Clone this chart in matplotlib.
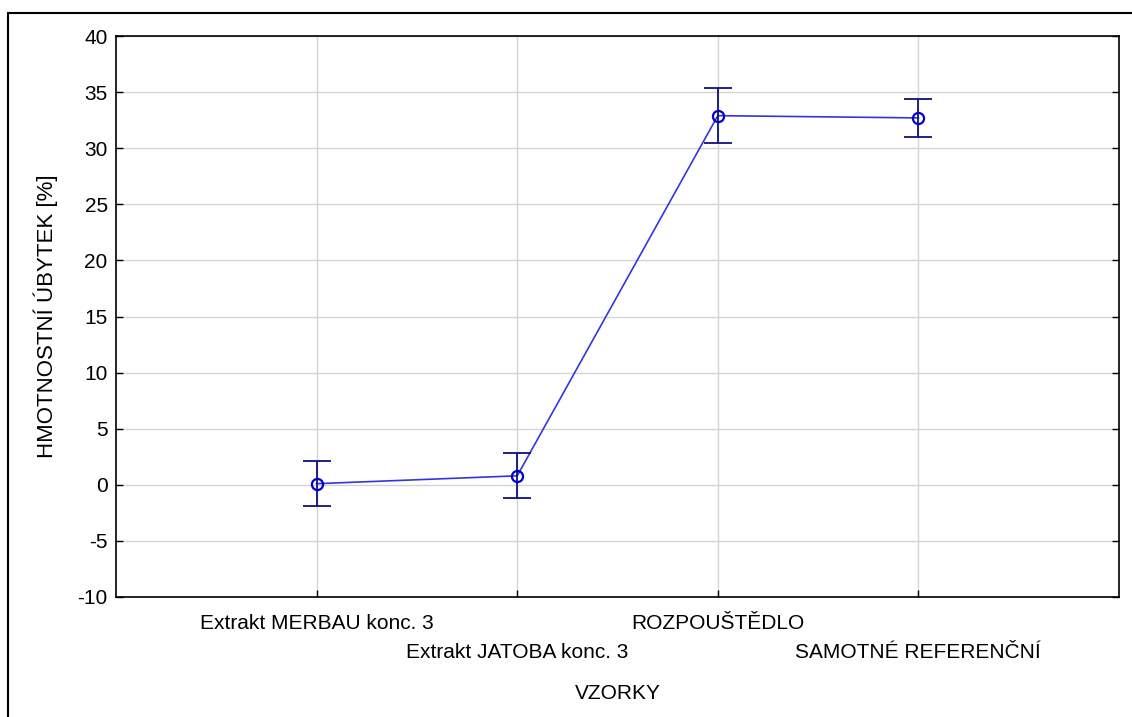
import matplotlib
matplotlib.use("Agg")
import matplotlib.pyplot as plt
from matplotlib.patches import Rectangle

samples = ["Extrakt MERBAU konc. 3", "Extrakt JATOBA konc. 3", "ROZPOUŠTĚDLO", "SAMOTNÉ REFERENČNÍ"]
means = [0.1, 0.8, 32.9, 32.7]
err_low = [2.0, 2.0, 2.4, 1.7]
err_high = [2.0, 2.0, 2.5, 1.7]
yticks = [-10, -5, 0, 5, 10, 15, 20, 25, 30, 35, 40]

plt.rcParams['font.family'] = ['Liberation Sans Narrow', 'Liberation Sans', 'DejaVu Sans']
plt.rcParams['axes.unicode_minus'] = False

fig = plt.figure(figsize=(11.32, 7.17), dpi=100)
# outer frame of the exported graph window
fig.patches.append(Rectangle((8 / 1132, -0.1), 1.2, 1.1 - 13 / 717,
                             transform=fig.transFigure, fill=False, edgecolor='black', linewidth=1.5))
ax = fig.add_axes([116 / 1132, 1 - 597 / 717, (1119 - 116) / 1132, (597 - 36) / 717])

x = list(range(1, len(samples) + 1))
ax.plot(x, means, color='#3535e0', linewidth=1.2, zorder=3)
ax.errorbar(x, means, yerr=[err_low, err_high], fmt='none', ecolor='#10107a',
            elinewidth=1.3, capsize=10, capthick=1.3, zorder=4)
ax.plot(x, means, linestyle='none', marker='o', markersize=8, markerfacecolor='none',
        markeredgecolor='#0000d0', markeredgewidth=1.6, zorder=5)

ax.set_xlim(0, 5)
ax.set_ylim(-10, 40)
ax.set_yticks(yticks)
ax.set_xticks(x)
ax.set_xticklabels(samples)
ax.grid(True, color='#d4d4d4', linewidth=1.0)
ax.set_axisbelow(True)
ax.tick_params(direction='in', length=5, width=1, labelsize=15, pad=6, top=False, right=True)

# staggered category labels
for i, t in enumerate(ax.xaxis.get_major_ticks()):
    t.set_pad(12 if i % 2 == 0 else 33)

for sp in ax.spines.values():
    sp.set_linewidth(1.2)

ax.set_xlabel("VZORKY", fontsize=15, labelpad=16)
ax.set_ylabel("HMOTNOSTNÍ ÚBYTEK [%]", fontsize=16, labelpad=14)

fig.savefig("out.png", dpi=100)
